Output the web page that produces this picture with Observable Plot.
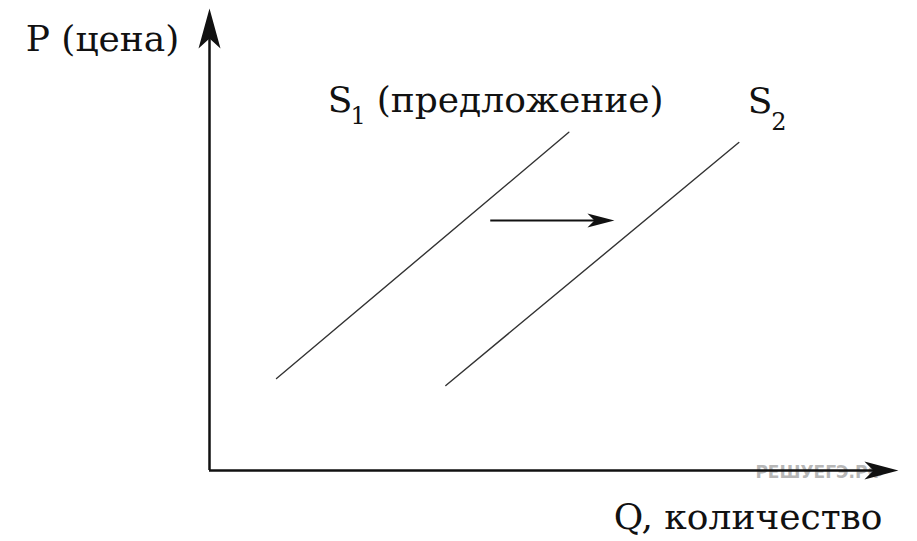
<!DOCTYPE html>
<html>
<head>
<meta charset="utf-8">
<script src="https://cdn.jsdelivr.net/npm/d3@7"></script>
<script src="https://cdn.jsdelivr.net/npm/@observablehq/plot@0.6"></script>
<style>
  html, body { margin: 0; padding: 0; background: #fff; }
</style>
</head>
<body>
<div id="chart"></div>
<script>
// Supply curves (Q, P) in abstract units
const supplyS1 = [{q: 0.97, p: 1.99}, {q: 5.2, p: 7.32}];
const supplyS2 = [{q: 3.42, p: 1.84}, {q: 7.66, p: 7.1}];
// Shift arrow from S1 toward S2
const shiftArrow = [{q1: 4.07, q2: 5.86, p: 5.41}];
// Axis extents
const axisEnd = {q: 9.97, p: 10};
// Labels
const mainLabels = [
  {text: "P (цена)", q: -2.66, p: 9.09},
  {text: "S", q: 1.71, p: 7.75},
  {text: "(предложение)", q: 2.42, p: 7.75},
  {text: "S", q: 7.79, p: 7.73},
  {text: "Q, количество", q: 5.85, p: -1.26}
];
const subLabels = [
  {text: "1", q: 2.04, p: 7.49},
  {text: "2", q: 8.13, p: 7.36}
];
const watermark = [{text: "РЕШУЕГЭ.РФ", q: 7.9, p: -0.17}];

function head(pts) {
  return {
    draw(ctx) {
      ctx.moveTo(0, 0);
      for (const [x, y] of pts) ctx.lineTo(x, y);
      ctx.closePath();
    }
  };
}
const headUp = head([[-11, 40], [0, 30], [11, 40]]);
const headRightBig = head([[-34, -9], [-25, 0], [-34, 9]]);
const headRightSmall = head([[-27, -7], [-20, 0], [-27, 7]]);

const font = "DejaVu Serif";

const chart = Plot.plot({
  width: 917,
  height: 541,
  marginLeft: 209,
  marginRight: 17,
  marginTop: 8,
  marginBottom: 71,
  x: {domain: [0, 10], axis: null},
  y: {domain: [0, 10], axis: null},
  style: {background: "#fff", overflow: "visible"},
  marks: [
    // watermark (behind the axis)
    Plot.text(watermark, {x: "q", y: "p", text: "text", textAnchor: "start", lineAnchor: "bottom",
      fontFamily: "DejaVu Sans", fontSize: 17, fontWeight: "bold", fill: "#888", opacity: 0.6}),
    // axes
    Plot.ruleY([0], {x1: 0, x2: axisEnd.q - 0.3, stroke: "#111", strokeWidth: 2.5}),
    Plot.ruleX([0], {y1: 0, y2: axisEnd.p - 0.6, stroke: "#111", strokeWidth: 2.5}),
    Plot.dot([axisEnd], {x: 0, y: "p", symbol: headUp, fill: "#111", stroke: "none"}),
    Plot.dot([axisEnd], {x: "q", y: 0, symbol: headRightBig, fill: "#111", stroke: "none"}),
    // supply curves
    Plot.line(supplyS1, {x: "q", y: "p", stroke: "#333", strokeWidth: 1.4}),
    Plot.line(supplyS2, {x: "q", y: "p", stroke: "#333", strokeWidth: 1.4}),
    // shift arrow
    Plot.ruleY(shiftArrow, {y: "p", x1: "q1", x2: d => d.q2 - 0.25, stroke: "#111", strokeWidth: 2}),
    Plot.dot(shiftArrow, {x: "q2", y: "p", symbol: headRightSmall, fill: "#111", stroke: "none"}),
    // labels
    Plot.text(mainLabels, {x: "q", y: "p", text: "text", textAnchor: "start", lineAnchor: "bottom",
      fontFamily: font, fontSize: 36, fill: "#111"}),
    Plot.text(subLabels, {x: "q", y: "p", text: "text", textAnchor: "start", lineAnchor: "bottom",
      fontFamily: font, fontSize: 24, fill: "#111"})
  ]
});
document.getElementById("chart").appendChild(chart);
</script>
</body>
</html>
